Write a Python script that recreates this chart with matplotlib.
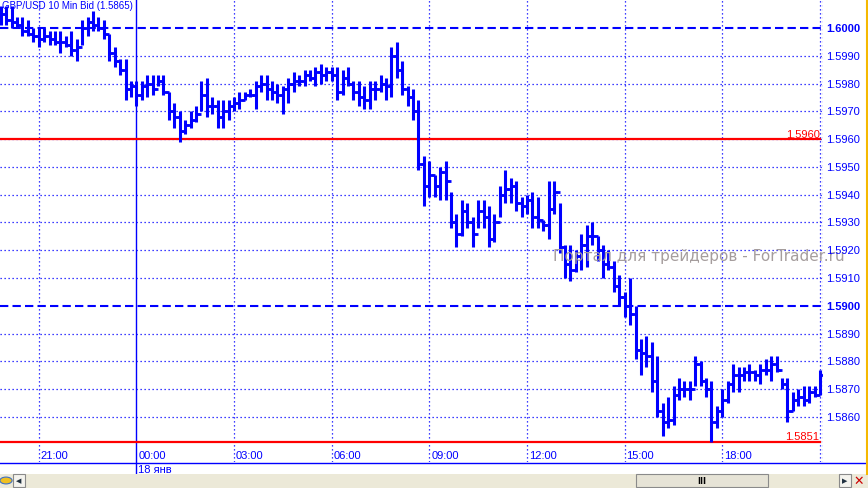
import matplotlib
matplotlib.use("Agg")
import matplotlib.pyplot as plt
import matplotlib.transforms as mtransforms
from matplotlib.patches import Rectangle
from matplotlib.lines import Line2D
import numpy as np

# ---------------- data ----------------
title = "GBP/USD 10 Min Bid (1.5865)"
highs = [1.6008, 1.6008, 1.6008, 1.6004, 1.6004, 1.6003, 1.6000, 1.6000, 1.6000, 1.5999,
         1.5999, 1.5999, 1.5997, 1.5999, 1.5996, 1.6003, 1.6004, 1.6006, 1.6004, 1.6003,
         1.5998, 1.5993, 1.5989, 1.5989, 1.5981, 1.5981, 1.5981, 1.5983, 1.5983, 1.5983,
         1.5983, 1.5977, 1.5973, 1.5970, 1.5967, 1.5970, 1.5972, 1.5981, 1.5982, 1.5975,
         1.5974, 1.5974, 1.5974, 1.5975, 1.5977, 1.5977, 1.5978, 1.5981, 1.5983, 1.5983,
         1.5981, 1.5980, 1.5979, 1.5982, 1.5984, 1.5983, 1.5985, 1.5985, 1.5986, 1.5987,
         1.5986, 1.5986, 1.5986, 1.5985, 1.5986, 1.5981, 1.5981, 1.5979, 1.5981, 1.5981,
         1.5983, 1.5982, 1.5993, 1.5995, 1.5988, 1.5979, 1.5978, 1.5974, 1.5954, 1.5952,
         1.5947, 1.5950, 1.5952, 1.5941, 1.5933, 1.5938, 1.5937, 1.5932, 1.5938, 1.5938,
         1.5936, 1.5933, 1.5943, 1.5949, 1.5946, 1.5945, 1.5939, 1.5940, 1.5941, 1.5939,
         1.5931, 1.5945, 1.5945, 1.5937, 1.5922, 1.5922, 1.5920, 1.5926, 1.5929, 1.5930,
         1.5925, 1.5922, 1.5920, 1.5916, 1.5911, 1.5905, 1.5910, 1.5900, 1.5888, 1.5889,
         1.5887, 1.5882, 1.5865, 1.5867, 1.5871, 1.5874, 1.5873, 1.5873, 1.5882, 1.5880,
         1.5874, 1.5873, 1.5864, 1.5870, 1.5873, 1.5879, 1.5878, 1.5878, 1.5879, 1.5877,
         1.5879, 1.5881, 1.5882, 1.5882, 1.5874, 1.5874, 1.5869, 1.5870, 1.5871, 1.5871,
         1.5871, 1.5877]
lows = [1.6001, 1.6001, 1.6000, 1.6000, 1.5997, 1.5997, 1.5995, 1.5993, 1.5995, 1.5994,
        1.5994, 1.5991, 1.5993, 1.5990, 1.5988, 1.5994, 1.5997, 1.5999, 1.5999, 1.5996,
        1.5988, 1.5986, 1.5983, 1.5974, 1.5975, 1.5972, 1.5974, 1.5975, 1.5976, 1.5979,
        1.5976, 1.5967, 1.5964, 1.5959, 1.5962, 1.5964, 1.5966, 1.5970, 1.5968, 1.5969,
        1.5964, 1.5964, 1.5967, 1.5970, 1.5971, 1.5974, 1.5975, 1.5971, 1.5977, 1.5974,
        1.5974, 1.5973, 1.5969, 1.5973, 1.5977, 1.5979, 1.5979, 1.5981, 1.5979, 1.5980,
        1.5981, 1.5981, 1.5974, 1.5976, 1.5979, 1.5974, 1.5972, 1.5971, 1.5971, 1.5974,
        1.5977, 1.5974, 1.5975, 1.5982, 1.5976, 1.5972, 1.5967, 1.5949, 1.5936, 1.5939,
        1.5939, 1.5938, 1.5938, 1.5928, 1.5921, 1.5925, 1.5928, 1.5921, 1.5928, 1.5928,
        1.5921, 1.5923, 1.5932, 1.5937, 1.5937, 1.5934, 1.5932, 1.5933, 1.5928, 1.5928,
        1.5927, 1.5924, 1.5933, 1.5919, 1.5910, 1.5909, 1.5912, 1.5913, 1.5914, 1.5922,
        1.5916, 1.5910, 1.5913, 1.5905, 1.5900, 1.5896, 1.5893, 1.5881, 1.5875, 1.5878,
        1.5869, 1.5860, 1.5853, 1.5856, 1.5857, 1.5866, 1.5867, 1.5866, 1.5871, 1.5871,
        1.5867, 1.5851, 1.5856, 1.5860, 1.5865, 1.5869, 1.5869, 1.5873, 1.5873, 1.5873,
        1.5872, 1.5875, 1.5873, 1.5876, 1.5870, 1.5858, 1.5862, 1.5864, 1.5864, 1.5865,
        1.5867, 1.5868]
closes = [1.6005, 1.6003, 1.6002, 1.6001, 1.5999, 1.5998, 1.5997, 1.5996, 1.5997, 1.5996,
          1.5995, 1.5995, 1.5994, 1.5992, 1.5993, 1.6000, 1.6002, 1.6001, 1.6000, 1.5998,
          1.5991, 1.5988, 1.5985, 1.5978, 1.5979, 1.5976, 1.5979, 1.5980, 1.5978, 1.5981,
          1.5977, 1.5970, 1.5968, 1.5963, 1.5965, 1.5967, 1.5969, 1.5976, 1.5972, 1.5972,
          1.5968, 1.5970, 1.5972, 1.5973, 1.5974, 1.5976, 1.5976, 1.5979, 1.5980, 1.5978,
          1.5977, 1.5976, 1.5978, 1.5980, 1.5981, 1.5981, 1.5983, 1.5982, 1.5984, 1.5983,
          1.5984, 1.5983, 1.5977, 1.5982, 1.5980, 1.5977, 1.5975, 1.5974, 1.5978, 1.5978,
          1.5980, 1.5979, 1.5990, 1.5985, 1.5978, 1.5975, 1.5970, 1.5951, 1.5943, 1.5947,
          1.5943, 1.5948, 1.5945, 1.5930, 1.5926, 1.5934, 1.5930, 1.5926, 1.5934, 1.5932,
          1.5924, 1.5930, 1.5940, 1.5942, 1.5943, 1.5937, 1.5936, 1.5938, 1.5932, 1.5931,
          1.5929, 1.5935, 1.5941, 1.5921, 1.5915, 1.5913, 1.5918, 1.5922, 1.5925, 1.5925,
          1.5920, 1.5915, 1.5914, 1.5907, 1.5903, 1.5900, 1.5897, 1.5884, 1.5883, 1.5882,
          1.5873, 1.5862, 1.5858, 1.5859, 1.5868, 1.5870, 1.5870, 1.5870, 1.5879, 1.5873,
          1.5870, 1.5858, 1.5862, 1.5866, 1.5872, 1.5875, 1.5875, 1.5876, 1.5876, 1.5875,
          1.5877, 1.5877, 1.5879, 1.5877, 1.5872, 1.5862, 1.5866, 1.5867, 1.5866, 1.5869,
          1.5868, 1.5875]
# open of each 10-min bar = previous bar's close (continuous FX quotes)
opens = [closes[0]] + closes[:-1]

time_tick_bars = [7, 25, 43, 61, 79, 97, 115, 133, 151]
time_tick_labels = ["21:00", "00:00", "03:00", "06:00", "09:00", "12:00", "15:00", "18:00", ""]
day_bar = 25
day_label = "18 янв"
price_ticks = [1.5860, 1.5870, 1.5880, 1.5890, 1.5900, 1.5910, 1.5920, 1.5930,
               1.5940, 1.5950, 1.5960, 1.5970, 1.5980, 1.5990, 1.6000]
round_levels = [1.5900, 1.6000]
red_levels = [1.5960, 1.5851]
watermark = "Портал для трейдеров - ForTrader.ru"

# ---------------- figure ----------------
W, H = 868, 489
fig = plt.figure(figsize=(W / 100, H / 100), dpi=100)
fig.patch.set_facecolor("white")

def fx(px):
    return px / W

def fy(py):
    return 1 - py / H

ax_bottom_px = 463
ax_right_px = 823
ax = fig.add_axes([0, fy(ax_bottom_px), fx(ax_right_px), ax_bottom_px / H])
ax.set_facecolor("white")
for s in ax.spines.values():
    s.set_visible(False)
ax.set_xticks([])
ax.set_yticks([])
ax.set_ylim(1.584376, 1.601044)
ax.set_xlim(-0.13, 151.55)

BLUE = "#0000ff"
RED = "#ff0000"
FONT = "Liberation Sans"

# grid
for v in price_ticks:
    if v in round_levels:
        ax.axhline(v, color=BLUE, lw=1.5, ls=(0, (4, 2)), zorder=1)
    else:
        ax.axhline(v, color=BLUE, lw=0.9, ls=(0, (1, 2.2)), zorder=1)
for b in time_tick_bars:
    if b == day_bar:
        continue
    ax.axvline(b, color=BLUE, lw=0.9, ls=(0, (1, 2.2)), zorder=1)
ax.axvline(151.5, color=BLUE, lw=0.9, ls=(0, (1, 2.2)), zorder=1)
ax.axvline(day_bar, ymin=-12 / 463, ymax=1, color=BLUE, lw=1.0, zorder=1, clip_on=False)

# red levels
for v in red_levels:
    ax.axhline(v, xmin=0, xmax=820 / 823, color=RED, lw=1.6, zorder=2)
    ax.text(150.9, v + 0.00002, f"{v:.4f}", color=RED, fontsize=8, family=FONT,
            ha="right", va="bottom", zorder=2)

# watermark
wm_trans = mtransforms.blended_transform_factory(fig.transFigure, ax.transData)
fig.text(fx(553), fy(261), watermark, color="#a59d9d", fontsize=11,
         family="DejaVu Sans", ha="left", va="baseline", zorder=0)

# bars
x = np.arange(len(highs))
ax.vlines(x, lows, highs, color=BLUE, lw=2.2, zorder=4, capstyle="butt")
ax.hlines(opens, x - 0.6, x, color=BLUE, lw=2.0, zorder=4)
ax.hlines(closes, x, x + 0.6, color=BLUE, lw=2.0, zorder=4)

# title
ax.text(0.002, 0.987, title, transform=ax.transAxes, color=BLUE, fontsize=7,
        family=FONT, ha="left", va="center", zorder=6)

# time labels
bt = mtransforms.blended_transform_factory(ax.transData, ax.transAxes)
for b, lab in zip(time_tick_bars, time_tick_labels):
    ax.text(b + 0.35, 7 / 463, lab, transform=bt, color=BLUE, fontsize=8,
            family=FONT, ha="left", va="center", zorder=6)
ax.text(day_bar + 0.35, -7 / 463, day_label, transform=bt, color=BLUE, fontsize=8,
        family=FONT, ha="left", va="center", clip_on=False)

# price labels
pt = mtransforms.blended_transform_factory(fig.transFigure, ax.transData)
for v in price_ticks:
    fig.text(fx(826), 0, f"{v:.4f}", transform=pt, color=BLUE, fontsize=8,
             family=FONT, ha="left", va="center",
             fontweight="bold" if v in round_levels else "normal")
    fig.texts[-1].set_position((fx(826), v))

# bottom axis line and frame
fig.add_artist(Line2D([0, fx(866)], [fy(463.5), fy(463.5)], color=BLUE, lw=1.0))
fig.add_artist(Line2D([fx(866.5), fx(866.5)], [fy(0), fy(475)], color="#f5b800", lw=1.5))

# scroll bar area
fig.add_artist(Rectangle((0, 0), 1, fy(475), transform=fig.transFigure,
                         facecolor="#ece9d8", edgecolor="none"))
fig.add_artist(Rectangle((fx(636), fy(488)), fx(768) - fx(636), fy(475) - fy(488),
                         transform=fig.transFigure, facecolor="#e6e3d6",
                         edgecolor="#8a8a8a", lw=0.8))
fig.text(fx(702), fy(481.5), "III", color="black", fontsize=6, fontweight="bold",
         family="DejaVu Sans", ha="center", va="center")
fig.add_artist(Rectangle((fx(13), fy(488)), fx(12), fy(475) - fy(488),
                         transform=fig.transFigure, facecolor="#f4f3ee",
                         edgecolor="#8a8a8a", lw=0.8))
fig.text(fx(19), fy(481.5), "◀", color="#203040", fontsize=5, ha="center", va="center")
fig.add_artist(Rectangle((fx(839), fy(488)), fx(12), fy(475) - fy(488),
                         transform=fig.transFigure, facecolor="#f4f3ee",
                         edgecolor="#8a8a8a", lw=0.8))
fig.text(fx(845), fy(481.5), "▶", color="#203040", fontsize=5, ha="center", va="center")
fig.text(fx(859), fy(481.5), "✕", color="#cc0000", fontsize=9, ha="center", va="center")
fig.add_artist(plt.Circle((fx(6), fy(481.5)), 0.007, transform=fig.transFigure,
                          facecolor="#f0c020", edgecolor="#4070c0", lw=0.8))

fig.savefig("out.png", dpi=100)
